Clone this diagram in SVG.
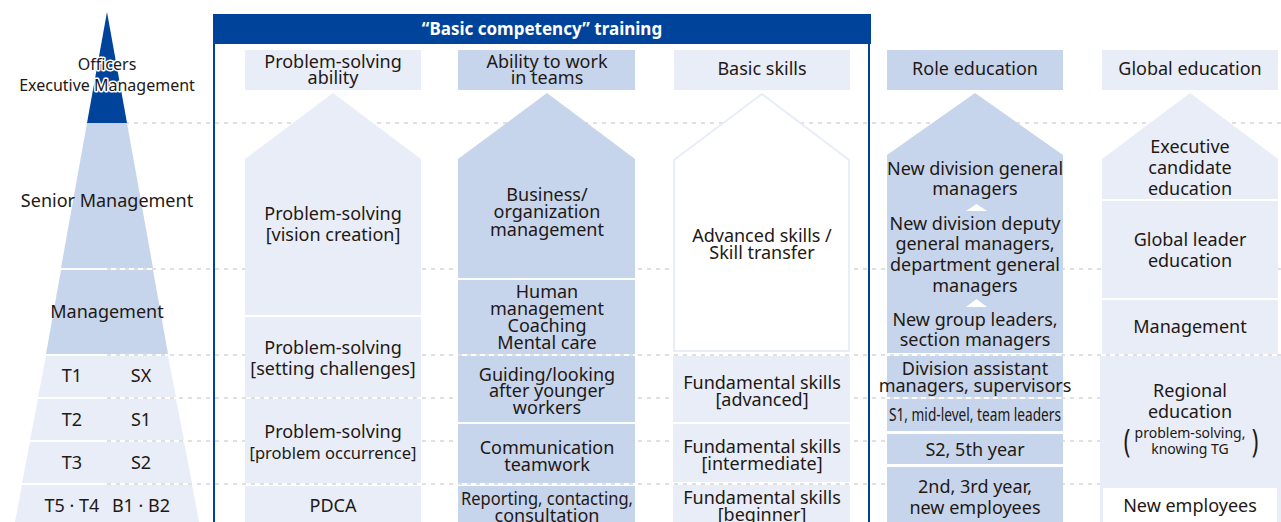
<svg xmlns="http://www.w3.org/2000/svg" width="1281" height="522" viewBox="0 0 1281 522">
  <style>
    text { font-family: "Noto Sans", "Open Sans", sans-serif; font-size: 18px; fill: #231815; text-anchor: middle; }
    .sm { font-size: 14px; }
    .lvl { font-size: 16px; }
    .halo { stroke: #ffffff; stroke-width: 3px; stroke-linejoin: round; paint-order: stroke; }
    .title { font-weight: bold; fill: #ffffff; font-size: 17px; }
    .dark { fill: #00439a; }
    .mid { fill: #c6d5eb; }
    .light { fill: #e8edf8; }
    .guide { stroke: #d6d6d6; stroke-width: 1.3; stroke-dasharray: 4 5; fill: none; }
    .frame { stroke: #00439a; stroke-width: 2; }
  </style>

  <!-- level guide lines -->
  <g id="connectors">
    <line class="guide" x1="107" y1="123" x2="1281" y2="123"/>
    <line class="guide" x1="107" y1="269" x2="1281" y2="269"/>
    <line class="guide" x1="107" y1="355" x2="1281" y2="355"/>
    <line class="guide" x1="107" y1="398" x2="1281" y2="398"/>
    <line class="guide" x1="107" y1="441" x2="1281" y2="441"/>
    <line class="guide" x1="107" y1="484" x2="1281" y2="484"/>
  </g>

  <!-- job level pyramid -->
  <g id="pyramid">
    <polygon class="dark" points="107,12 127,123 87,123"/>
    <polygon class="mid" points="87,123 127,123 153,268 61,268"/>
    <polygon class="mid" points="61,270 153,270 168,354 46,354"/>
    <polygon class="light" points="46,356 168,356 176,397 38,397"/>
    <polygon class="light" points="38,399 176,399 184,440 30,440"/>
    <polygon class="light" points="30,442 184,442 192,483 22,483"/>
    <polygon class="light" points="22,485 192,485 199,522 15,522"/>
    <text class="lvl halo" x="107" y="70">Officers</text>
    <text class="lvl halo" x="107" y="91">Executive Management</text>
    <text x="107" y="207">Senior Management</text>
    <text x="107" y="318">Management</text>
    <text x="72" y="382">T1</text><text x="141" y="382">SX</text>
    <text x="72" y="426">T2</text><text x="141" y="426">S1</text>
    <text x="72" y="469">T3</text><text x="141" y="469">S2</text>
    <text x="72" y="512">T5 · T4</text><text x="141" y="512">B1 · B2</text>
  </g>

  <!-- basic competency training frame -->
  <g id="basic-frame">
    <rect class="dark" x="213" y="14" width="658" height="30"/>
    <text class="title" x="542" y="35">“Basic competency” training</text>
    <line class="frame" x1="214" y1="44" x2="214" y2="522"/>
    <line class="frame" x1="869" y1="44" x2="869" y2="522"/>
  </g>

  <!-- problem-solving ability -->
  <g id="col-problem-solving">
    <rect class="light" x="245" y="50" width="176" height="40"/>
    <text x="333" y="68">Problem-solving</text>
    <text x="333" y="84">ability</text>
    <polygon class="light" points="245,159 333,93 421,159 421,315 245,315"/>
    <text x="333" y="220">Problem-solving</text>
    <text x="333" y="241">[vision creation]</text>
    <rect class="light" x="245" y="317" width="176" height="80"/>
    <text x="333" y="354">Problem-solving</text>
    <text x="333" y="375">[setting challenges]</text>
    <rect class="light" x="245" y="399" width="176" height="84"/>
    <text x="333" y="438">Problem-solving</text>
    <text x="333" y="459" style="font-size:16.5px">[problem occurrence]</text>
    <rect class="light" x="245" y="486" width="176" height="36"/>
    <text x="333" y="512">PDCA</text>
  </g>

  <!-- ability to work in teams -->
  <g id="col-teamwork">
    <rect class="mid" x="458" y="50" width="177" height="40"/>
    <text x="547" y="68">Ability to work</text>
    <text x="547" y="84">in teams</text>
    <polygon class="mid" points="458,159 547,93 635,159 635,278 458,278"/>
    <text x="547" y="201">Business/</text>
    <text x="547" y="218">organization</text>
    <text x="547" y="236">management</text>
    <rect class="mid" x="458" y="280" width="177" height="74"/>
    <text x="547" y="298">Human</text>
    <text x="547" y="315">management</text>
    <text x="547" y="332">Coaching</text>
    <text x="547" y="349">Mental care</text>
    <rect class="mid" x="458" y="356" width="177" height="66"/>
    <text x="547" y="381">Guiding/looking</text>
    <text x="547" y="397">after younger</text>
    <text x="547" y="414">workers</text>
    <rect class="mid" x="458" y="424" width="177" height="59"/>
    <text x="547" y="454">Communication</text>
    <text x="547" y="471">teamwork</text>
    <rect class="mid" x="458" y="486" width="177" height="36"/>
    <text x="547" y="505" textLength="172" lengthAdjust="spacingAndGlyphs">Reporting, contacting,</text>
    <text x="547" y="522">consultation</text>
  </g>

  <!-- basic skills -->
  <g id="col-basic-skills">
    <rect class="light" x="674" y="50" width="176" height="40"/>
    <text x="762" y="75">Basic skills</text>
    <polygon points="674,160 762,94 849,160 849,351 674,351" fill="#ffffff" stroke="#e8edf8" stroke-width="2"/>
    <text x="762" y="242">Advanced skills /</text>
    <text x="762" y="259">Skill transfer</text>
    <rect class="light" x="673" y="356" width="177" height="66"/>
    <text x="762" y="389">Fundamental skills</text>
    <text x="762" y="406">[advanced]</text>
    <rect class="light" x="673" y="424" width="177" height="58"/>
    <text x="762" y="453">Fundamental skills</text>
    <text x="762" y="470">[intermediate]</text>
    <rect class="light" x="673" y="485" width="177" height="37"/>
    <text x="762" y="504">Fundamental skills</text>
    <text x="762" y="521">[beginner]</text>
  </g>

  <!-- role education -->
  <g id="col-role">
    <rect class="mid" x="887" y="50" width="176" height="40"/>
    <text x="975" y="75">Role education</text>
    <polygon class="mid" points="887,155 975,93 1063,155 1063,353 887,353"/>
    <text x="975" y="175">New division general</text>
    <text x="975" y="195">managers</text>
    <polygon points="966,211 976.5,204 987,211" fill="#ffffff"/>
    <text x="975" y="230">New division deputy</text>
    <text x="975" y="250">general managers,</text>
    <text x="975" y="271">department general</text>
    <text x="975" y="292">managers</text>
    <polygon points="966,307 976.5,299 987,307" fill="#ffffff"/>
    <text x="975" y="326">New group leaders,</text>
    <text x="975" y="346">section managers</text>
    <rect class="mid" x="887" y="356" width="176" height="41"/>
    <text x="975" y="375">Division assistant</text>
    <text x="975" y="392">managers, supervisors</text>
    <rect class="mid" x="887" y="399" width="176" height="32"/>
    <text x="975" y="421" style="font-size:17.5px" textLength="172" lengthAdjust="spacingAndGlyphs">S1, mid-level, team leaders</text>
    <rect class="mid" x="887" y="434" width="176" height="30"/>
    <text x="975" y="456">S2, 5th year</text>
    <rect class="mid" x="887" y="467" width="176" height="55"/>
    <text x="975" y="493">2nd, 3rd year,</text>
    <text x="975" y="514">new employees</text>
  </g>

  <!-- global education -->
  <g id="col-global">
    <rect class="light" x="1102" y="50" width="176" height="40"/>
    <text x="1190" y="75">Global education</text>
    <polygon class="light" points="1102,159 1190,93 1278,159 1278,199 1102,199"/>
    <text x="1190" y="153">Executive</text>
    <text x="1190" y="174">candidate</text>
    <text x="1190" y="195">education</text>
    <rect class="light" x="1102" y="201" width="176" height="97"/>
    <text x="1190" y="246">Global leader</text>
    <text x="1190" y="267">education</text>
    <rect class="light" x="1102" y="300" width="176" height="54"/>
    <text x="1190" y="333">Management</text>
    <rect class="light" x="1100" y="356" width="181" height="166"/>
    <text x="1190" y="397">Regional</text>
    <text x="1190" y="418">education</text>
    <text class="sm" x="1190" y="438">problem-solving,</text>
    <text class="sm" x="1190" y="454">knowing TG</text>
    <text x="1127" y="302" style="font-size:22px" transform="scale(1 1.5)">(</text>
    <text x="1255" y="302" style="font-size:22px" transform="scale(1 1.5)">)</text>
    <rect x="1103" y="488" width="174" height="34" fill="#ffffff"/>
    <text x="1190" y="512">New employees</text>
  </g>
</svg>
